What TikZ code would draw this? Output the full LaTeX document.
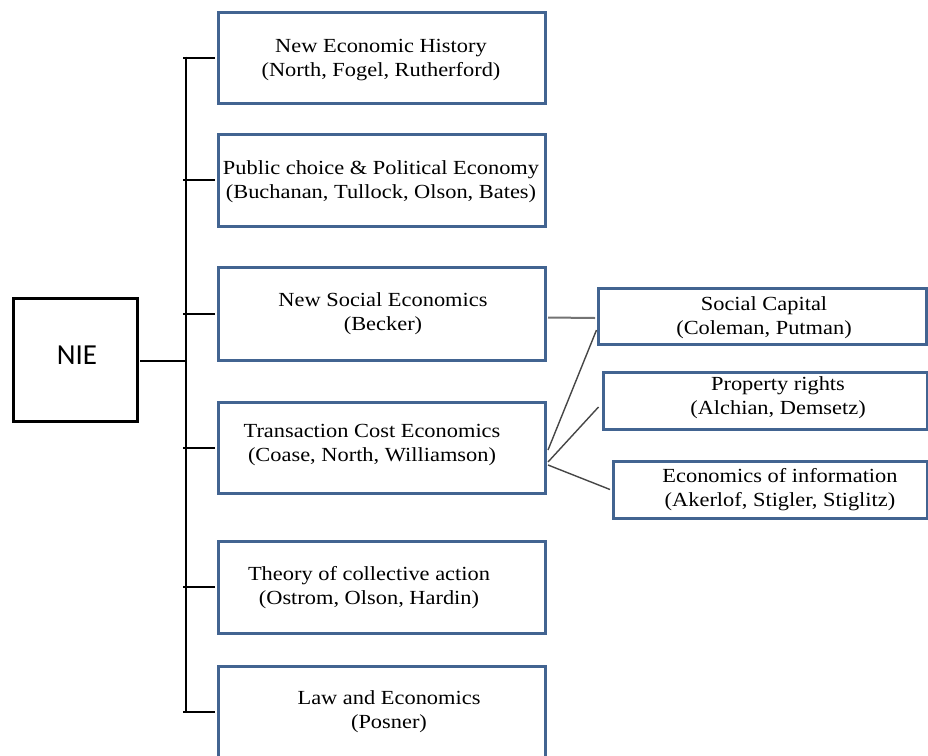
\documentclass[tikz,border=0pt]{standalone}
\usepackage{fontspec}
\setmainfont[FakeStretch=1.12]{Liberation Serif}
\newfontfamily\niefont{Carlito}
\usetikzlibrary{calc}
\definecolor{boxblue}{RGB}{66,100,145}
\definecolor{linkgray}{RGB}{70,70,70}
\begin{document}
\begin{tikzpicture}[x=1pt,y=-1pt,
  box/.style={draw=boxblue,line width=3pt,rectangle,inner sep=0pt},
  lbl/.style={align=center,font=\fontsize{20}{24}\selectfont,inner sep=0pt},
  tree/.style={draw=black,line width=2pt},
  link/.style={draw=linkgray,line width=1.4pt},
  softlink/.style={draw=black!55,line width=2pt}]
\clip (0,0) rectangle (928,755);
\fill[white] (0,0) rectangle (928,755);
% left column boxes
\node[box,minimum width=327pt,minimum height=91pt] (b1) at (381.5,57.5) {};
\node[box,minimum width=327pt,minimum height=92pt] (b2) at (381.5,180) {};
\node[box,minimum width=327pt,minimum height=93pt] (b3) at (381.5,313.5) {};
\node[box,minimum width=327pt,minimum height=91pt] (b4) at (381.5,447.5) {};
\node[box,minimum width=327pt,minimum height=92pt] (b5) at (381.5,587) {};
\node[box,minimum width=327pt,minimum height=92pt] (b6) at (381.5,712) {};
% NIE box
\node[draw=black,line width=3pt,minimum width=124pt,minimum height=123pt,inner sep=0pt] (nie) at (75,359.5) {};
\node[font=\niefont\fontsize{29}{30}\selectfont,inner sep=0pt] (nietxt) at (77,355) {NIE};
% right boxes
\node[box,minimum width=328pt,minimum height=56pt] (sc) at (762,316) {};
\node[box,minimum width=324pt,minimum height=57pt] (pr) at (765,400.5) {};
\node[box,minimum width=314pt,minimum height=57pt] (ei) at (770,489.5) {};
% texts
\node[lbl] (t1) at (381,60) {New Economic History\\(North, Fogel, Rutherford)};
\node[lbl] (t2) at (381,182) {Public choice \& Political Economy\\(Buchanan, Tullock, Olson, Bates)};
\node[lbl] (t3) at (383,314) {New Social Economics\\(Becker)};
\node[lbl] (t4) at (372,445) {Transaction Cost Economics\\(Coase, North, Williamson)};
\node[lbl] (t5) at (369,588) {Theory of collective action\\(Ostrom, Olson, Hardin)};
\node[lbl] (t6) at (389,712) {Law and Economics\\(Posner)};
\node[lbl] (t7) at (764,318) {Social Capital\\(Coleman, Putman)};
\node[lbl] (t8) at (778,398) {Property rights\\(Alchian, Demsetz)};
\node[lbl] (t9) at (780,490) {Economics of information\\(Akerlof, Stigler, Stiglitz)};
% tree connectors
\coordinate (spine) at (186,0);
\draw[tree] ($(b1.west -| spine)+(0,-1)$) -- ($(b6.west -| spine)+(0,1)$);
\foreach \b in {b1,b2,b3,b4,b5,b6}{
  \draw[tree] ($(\b.west)+(-1.5,0)$) -- ($(\b.west -| spine)+(-3,0)$);
}
\draw[tree] ($(nie.east)+(1.5,1.5)$) -- ($(nie.east -| spine)+(0,1.5)$);
% right connectors
\draw[softlink] ($(b3.east)+(1.5,4)$) -- ($(sc.west)+(-1.5,2)$);
\draw[link] ($(b4.east)+(1.5,2.5)$) -- ($(sc.west)+(0,14)$);
\draw[link] ($(b4.east)+(1.5,14.5)$) -- ($(pr.west)+(-3,6.5)$);
\draw[link] ($(b4.east)+(1.5,17.5)$) -- ($(ei.west)+(-1.5,0)$);
\end{tikzpicture}
\end{document}
